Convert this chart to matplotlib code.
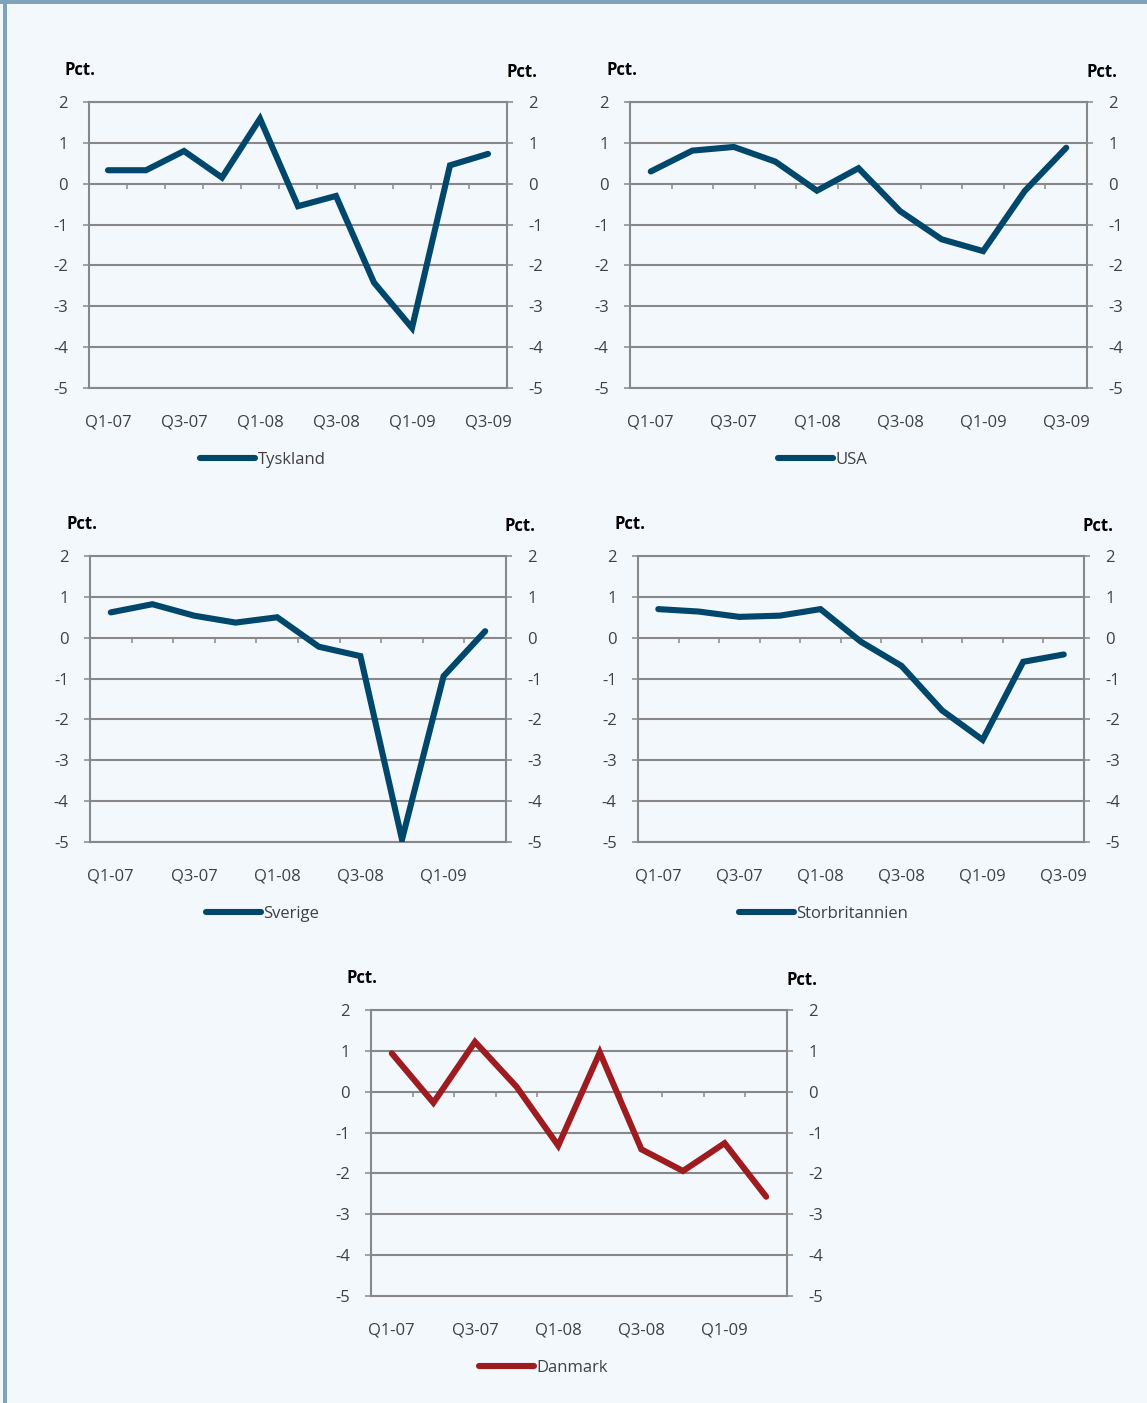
import numpy as np
import matplotlib
matplotlib.use("Agg")
import matplotlib.pyplot as plt
from matplotlib.patches import Rectangle

plt.rcParams['font.family'] = ['Open Sans', 'DejaVu Sans']

quarters = ['Q1-07', 'Q2-07', 'Q3-07', 'Q4-07', 'Q1-08', 'Q2-08',
            'Q3-08', 'Q4-08', 'Q1-09', 'Q2-09', 'Q3-09']

tyskland = [0.33, 0.33, 0.80, 0.15, 1.59, -0.55, -0.30, -2.42, -3.53, 0.45, 0.73]
usa = [0.30, 0.81, 0.90, 0.54, -0.17, 0.38, -0.67, -1.36, -1.65, -0.18, 0.88]
sverige = [0.62, 0.82, 0.54, 0.37, 0.50, -0.22, -0.45, -4.94, -0.94, 0.16]
storbritannien = [0.70, 0.64, 0.51, 0.54, 0.70, -0.10, -0.69, -1.78, -2.50, -0.59, -0.41]
danmark = [0.94, -0.27, 1.22, 0.12, -1.32, 0.96, -1.41, -1.94, -1.26, -2.57]

y_ticks = [2, 1, 0, -1, -2, -3, -4, -5]

BLUE = '#00476b'
RED = '#9e1b20'
GRID = '#888888'
TXT = '#404040'
BG = '#f3f8fd'
BAND = '#7fa3bb'

W, H = 1147, 1403
fig = plt.figure(figsize=(W / 100, H / 100), dpi=100)
fig.patch.set_facecolor(BG)

# frame bands
fig.add_artist(Rectangle((0, 1 - 4 / H), 1, 4 / H, transform=fig.transFigure,
                         facecolor=BAND, edgecolor='none'))
fig.add_artist(Rectangle((3 / W, 0), 4 / W, 1, transform=fig.transFigure,
                         facecolor=BAND, edgecolor='none'))


def panel(l, r, t, b, values, name, color, leg_x):
    ax = fig.add_axes([l / W, 1 - b / H, (r - l) / W, (b - t) / H])
    ax.set_facecolor('none')
    n = len(values)
    x = np.arange(n)
    ax.plot(x, values, color=color, lw=4.4, solid_capstyle='round',
            solid_joinstyle='miter', label=name, zorder=3)
    ax.set_xlim(-0.5, n - 0.5)
    ax.set_ylim(-5, 2)
    ax.set_yticks(y_ticks)
    ax.set_yticklabels([str(v) for v in y_ticks])
    ax.yaxis.grid(True, color=GRID, lw=1.5)
    ax.set_axisbelow(True)
    for s in ax.spines.values():
        s.set_color(GRID)
        s.set_linewidth(1.5)
    ax.tick_params(axis='y', which='both', left=True, right=True,
                   labelleft=True, labelright=True, direction='out',
                   length=4.3, width=1.1, color=GRID, labelsize=12,
                   labelcolor=TXT, pad=11)
    ax.set_xticks(x[::2])
    ax.set_xticklabels(quarters[:n][::2])
    ax.tick_params(axis='x', length=0, pad=19, labelsize=12, labelcolor=TXT)
    # category axis at zero with boundary ticks
    ax.vlines(np.arange(1, n) - 0.5, 0, -0.12, color=GRID, lw=1.1, zorder=2)
    # unit labels
    fig.text((l - 24) / W, 1 - (t - 32) / H, 'Pct.', fontsize=12,
             fontweight='bold', color='black', ha='left', va='center')
    fig.text((r - 1) / W, 1 - (t - 30) / H, 'Pct.', fontsize=12,
             fontweight='bold', color='black', ha='left', va='center')
    leg = ax.legend(loc='center left', bbox_to_anchor=(leg_x, -72 / (b - t)),
                    frameon=False, borderpad=0, borderaxespad=0,
                    handlelength=3.3, handletextpad=0.15, fontsize=12)
    for txt in leg.get_texts():
        txt.set_color(TXT)
    return ax


panel(89, 507, 102, 388, tyskland, 'Tyskland', BLUE, 0.266)
panel(630, 1087, 102, 388, usa, 'USA', BLUE, 0.324)
panel(90, 506, 556, 842, sverige, 'Sverige', BLUE, 0.279)
panel(638, 1084, 556, 842, storbritannien, 'Storbritannien', BLUE, 0.226)
panel(371, 787, 1010, 1296, danmark, 'Danmark', RED, 0.26)

fig.savefig('out.png', dpi=100, facecolor=BG)
